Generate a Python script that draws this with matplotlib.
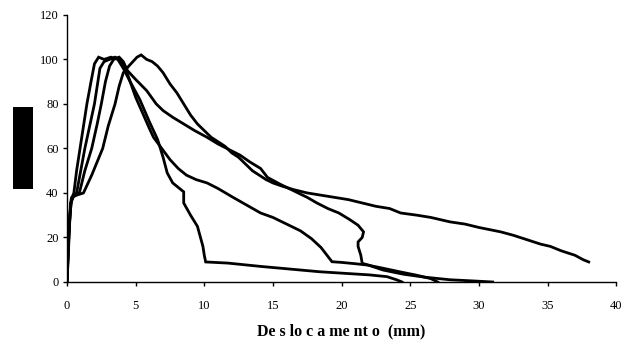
import matplotlib
matplotlib.use('Agg')
import matplotlib.pyplot as plt
from matplotlib.patches import Rectangle

# load-displacement curves of four specimens
curve_a_x = [0, 0.1, 0.2, 0.35, 0.7, 1.2, 1.8, 2.2, 2.6, 3.0, 3.5, 3.8, 4.1, 4.5, 4.8,
             5.1, 5.4, 5.8, 6.2, 6.6, 7.0, 7.5, 8.0, 8.5, 9.0, 9.5, 10.0, 10.5, 11.0, 11.5, 12.0,
             12.5, 13.0, 13.5, 14.0, 14.5, 15.0, 15.7, 16.5, 17.5, 18.5, 19.5, 20.5, 21.5, 22.5,
             23.5, 24.3, 25.5, 26.5, 27.9, 29.0, 30.0, 31.6, 32.5, 33.5, 34.5, 35.2, 36.0, 37.0,
             37.6, 38.0]
curve_a_y = [0, 12, 30, 38, 39, 40, 48, 54, 60, 70, 80, 88, 94, 97, 99,
             101, 102, 100, 99, 97, 94, 89, 85, 80, 75, 71, 68, 65, 63, 61, 58,
             56, 53, 50, 48, 46, 44.5, 43, 41.5, 40, 39, 38, 37, 35.5, 34,
             33, 31, 30, 29, 27, 26, 24.5, 22.5, 21, 19, 17, 16, 14, 12,
             10, 9]

curve_b_x = [0, 0.1, 0.25, 0.5, 0.9, 1.3, 1.8, 2.2, 2.5, 2.8, 3.1, 3.4, 3.8, 4.1, 4.4,
             5.0, 5.8, 6.5, 7.0, 7.7, 8.5, 9.3, 10.2, 11.0, 11.8, 12.6, 13.3, 14.1, 14.6, 15.5,
             16.5, 17.5, 18.2, 19.0, 19.8, 20.6, 21.2, 21.6, 21.5, 21.2, 21.2, 21.4, 21.5, 22.0,
             23.0, 24.5, 26.0, 27.9, 29.5, 31.0]
curve_b_y = [0, 15, 35, 39, 40, 50, 60, 71, 80, 90, 97, 100, 101, 99, 95,
             91, 86, 80, 77, 74, 71, 68, 65, 62, 59.5, 57, 54, 51, 47, 44,
             41, 38, 35.5, 33, 31, 28, 25.5, 22.5, 20, 18, 16, 12, 8.4, 7.5,
             5.4, 3.5, 2.2, 1.0, 0.5, 0]

curve_c_x = [0, 0.1, 0.3, 0.5, 0.7, 1.0, 1.3, 1.65, 2.0, 2.2, 2.4, 2.7, 3.1, 3.5, 3.9, 4.2, 4.6,
             5.0, 5.5, 6.0, 6.3, 6.9, 7.5, 8.1, 8.7, 9.4, 10.2, 11.0, 12.1, 13.1, 14.1, 15.0,
             16.0, 17.0, 17.8, 18.5, 19.3, 20.0, 21.0, 21.9, 23.0, 24.3, 25.5, 26.5, 27.0]
curve_c_y = [0, 18, 36, 39, 40, 50, 60, 70, 80, 88, 96, 99, 100, 101, 100, 97, 90,
             83, 76, 69, 65, 60, 55, 51, 48, 46, 44.5, 42, 38, 34.5, 31, 29,
             26, 23, 19.5, 15.5, 9.1, 8.8, 8.2, 7.6, 6.2, 4.5, 3, 1.5, 0]

curve_d_x = [0, 0.1, 0.3, 0.5, 0.7, 0.95, 1.2, 1.45, 1.75, 2.0, 2.3, 2.7, 3.2, 3.7, 4.1,
             4.6, 5.3, 6.0, 6.6, 7.0, 7.3, 7.7, 8.5, 8.5, 9.0, 9.5, 9.9, 10.0, 10.1, 11.7,
             14.1, 18.4, 22.0, 23.3, 24.0, 24.4]
curve_d_y = [0, 20, 37, 40, 50, 60, 70, 80, 90, 98, 101, 100, 101, 100, 96,
             90, 82, 72, 64, 56, 49, 44.5, 40.5, 35.5, 30, 25, 16, 12, 9, 8.5,
             7, 4.6, 3.2, 2.4, 1, 0]

x_ticks = [0, 5, 10, 15, 20, 25, 30, 35, 40]
y_ticks = [0, 20, 40, 60, 80, 100, 120]

plt.rcParams['font.family'] = ['Liberation Serif', 'DejaVu Serif']

fig = plt.figure(figsize=(6.32, 3.46), dpi=100)
ax = fig.add_axes([0.106, 0.185, 0.869, 0.772])

for xs, ys in [(curve_a_x, curve_a_y), (curve_b_x, curve_b_y),
               (curve_c_x, curve_c_y), (curve_d_x, curve_d_y)]:
    ax.plot(xs, ys, color='black', lw=2.0, solid_joinstyle='miter')

ax.set_xlim(0, 40)
ax.set_ylim(0, 120)
ax.set_xticks(x_ticks)
ax.set_yticks(y_ticks)
ax.tick_params(direction='out', length=3, width=1, labelsize=9, color='black')
ax.tick_params(axis='x', pad=10)
ax.tick_params(axis='y', pad=3)
ax.spines['top'].set_visible(False)
ax.spines['right'].set_visible(False)
for s in ['left', 'bottom']:
    ax.spines[s].set_linewidth(1)
ax.set_xlabel('De s lo c a me nt o  (mm)', fontsize=11.5, fontweight='bold', labelpad=8)

# redacted y-axis label block
fig.patches.append(Rectangle((0.0206, 0.4538), 0.0316, 0.237, transform=fig.transFigure,
                             facecolor='black', edgecolor='none'))

fig.savefig('out.png', dpi=100)
